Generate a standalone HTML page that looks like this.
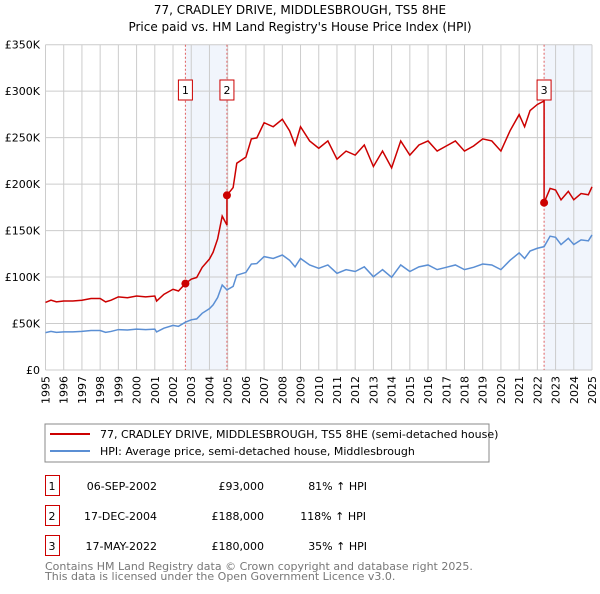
<!DOCTYPE html>
<html><head><meta charset="utf-8"><style>
body{margin:0;background:#fff;font-family:"DejaVu Sans","Liberation Sans",sans-serif;}
svg text{font-family:"DejaVu Sans","Liberation Sans",sans-serif;}
</style></head><body>
<svg id="chart" width="600" height="590" xmlns="http://www.w3.org/2000/svg">
<text x="300" y="14" text-anchor="middle" font-size="12">77, CRADLEY DRIVE, MIDDLESBROUGH, TS5 8HE</text>
<text x="300" y="31" text-anchor="middle" font-size="12">Price paid vs. HM Land Registry's House Price Index (HPI)</text>
<g id="grid"></g><g id="marks"></g><g id="axes"></g>
<rect x="45" y="424" width="444" height="38" fill="#fff" stroke="#888"/>
<line x1="50" y1="434" x2="90" y2="434" stroke="#cc0000" stroke-width="2"/>
<text x="100" y="438" font-size="11">77, CRADLEY DRIVE, MIDDLESBROUGH, TS5 8HE (semi-detached house)</text>
<line x1="50" y1="451" x2="90" y2="451" stroke="#5b8fd4" stroke-width="2"/>
<text x="100" y="455" font-size="11">HPI: Average price, semi-detached house, Middlesbrough</text>
<g font-size="11">
<rect x="45.5" y="475.5" width="14" height="20" fill="#fff" stroke="#cc0000"/><text x="52" y="490" text-anchor="middle">1</text>
<text x="157" y="490" text-anchor="end">06-SEP-2002</text><text x="264" y="490" text-anchor="end">£93,000</text><text x="367" y="490" text-anchor="end">81% ↑ HPI</text>
<rect x="45.5" y="505.5" width="14" height="20" fill="#fff" stroke="#cc0000"/><text x="52" y="520" text-anchor="middle">2</text>
<text x="157" y="520" text-anchor="end">17-DEC-2004</text><text x="264" y="520" text-anchor="end">£188,000</text><text x="366" y="520" text-anchor="end">118% ↑ HPI</text>
<rect x="45.5" y="535.5" width="14" height="20" fill="#fff" stroke="#cc0000"/><text x="52" y="550" text-anchor="middle">3</text>
<text x="157" y="550" text-anchor="end">17-MAY-2022</text><text x="264" y="550" text-anchor="end">£180,000</text><text x="367" y="550" text-anchor="end">35% ↑ HPI</text>
</g>
<text x="45" y="570" font-size="11" fill="#777">Contains HM Land Registry data © Crown copyright and database right 2025.</text>
<text x="45" y="580" font-size="11" fill="#777">This data is licensed under the Open Government Licence v3.0.</text>
</svg>
<script>
const hpiYears=[1995,1995.3,1995.6,1996,1996.5,1997,1997.5,1998,1998.3,1998.6,1999,1999.5,2000,2000.5,2001,2001.1,2001.5,2002,2002.3,2002.68,2003,2003.3,2003.6,2004,2004.2,2004.45,2004.7,2004.96,2005.3,2005.5,2006,2006.3,2006.6,2007,2007.5,2008,2008.4,2008.7,2009,2009.5,2010,2010.5,2011,2011.5,2012,2012.5,2013,2013.5,2014,2014.5,2015,2015.5,2016,2016.5,2017,2017.5,2018,2018.5,2019,2019.5,2020,2020.5,2021,2021.3,2021.6,2022,2022.37,2022.7,2023,2023.3,2023.7,2024,2024.4,2024.8,2025];
const hpiValues=[40.2,41.5,40.5,41,41,41.5,42.5,42.5,40.5,41.5,43.5,43,44,43.5,44,41,45,48,47,51.4,54,55,61,66,70,78,91.5,86.2,90,102,105,114,114.5,122,120,123.7,118,111,120,113,109.4,113,104,108,106,111,100.4,108,99.7,113,106,111,113,108,110.5,113,108,110.5,114,113,108,118,126,120,128,131,132.7,144,142.8,135,141.7,135,140,139,145.3];
const saleYears=[2002.68,2004.96,2022.37];
const salePrices=[93,188,180];
const yTicks=[0,50,100,150,200,250,300,350];
const yTickLabels=["£0","£50K","£100K","£150K","£200K","£250K","£300K","£350K"];
const xTicks=[1995,1996,1997,1998,1999,2000,2001,2002,2003,2004,2005,2006,2007,2008,2009,2010,2011,2012,2013,2014,2015,2016,2017,2018,2019,2020,2021,2022,2023,2024,2025];
const NS="http://www.w3.org/2000/svg";
const X=y=>45.5+(y-1995)*(592-45.5)/30;
const Y=v=>370-v*(370-44.7)/350;
function mk(p,t,a){const e=document.createElementNS(NS,t);for(const k in a)e.setAttribute(k,a[k]);p.appendChild(e);return e;}
const grid=document.getElementById('grid'),marks=document.getElementById('marks'),axes=document.getElementById('axes');
for(let i=0;i<3;i++){
  const x0=X(saleYears[i]);
  if(i!==1){const x1=i===0?X(saleYears[1]):X(2025);
    const r=mk(grid,'rect',{x:x0,y:Y(350),width:x1-x0,height:Y(0)-Y(350),fill:'#eef2fb',opacity:0.8});
    
    }
}
yTicks.forEach((t,i)=>{
  const l=mk(grid,'line',{x1:45.5,x2:592,y1:Y(t),y2:Y(t),stroke:'#ccc'});
  
  
  const tx=mk(axes,'text',{x:40,y:Y(t)+4,'text-anchor':'end','font-size':11});
  
  
  tx.textContent=yTickLabels[i];
});
xTicks.forEach(t=>{
  const l=mk(grid,'line',{x1:X(t),x2:X(t),y1:Y(350),y2:Y(0),stroke:'#ccc'});
  
  
  const tx=mk(axes,'text',{x:0,y:0,'font-size':11,'text-anchor':'end',transform:`translate(${X(t)+4},376) rotate(-90)`});
  
  
  tx.textContent=t;
});
saleYears.forEach((s,i)=>{
  const l=mk(grid,'line',{x1:X(s),x2:X(s),y1:Y(350),y2:Y(0),stroke:'#e06060','stroke-dasharray':'2,2'});
  
  
});
const hp=mk(marks,'polyline',{points:hpiYears.map((y,i)=>X(y)+','+Y(hpiValues[i])).join(' '),fill:'none',stroke:'#5b8fd4','stroke-width':1.5});


function hpiAt(t){for(let i=1;i<hpiYears.length;i++){if(t<=hpiYears[i]){const f=(t-hpiYears[i-1])/(hpiYears[i]-hpiYears[i-1]);return hpiValues[i-1]+f*(hpiValues[i]-hpiValues[i-1]);}}return hpiValues[hpiValues.length-1];}
const ratios=saleYears.map((s,i)=>salePrices[i]/hpiAt(s));
const pts=[];
hpiYears.forEach((y,i)=>{
  let k=0;for(let j=0;j<saleYears.length;j++)if(y>=saleYears[j]-1e-9)k=j;
  if(y<saleYears[0])k=0;
  if(i>0){for(let j=1;j<saleYears.length;j++){if(hpiYears[i-1]<saleYears[j]&&y>saleYears[j]){pts.push([saleYears[j],hpiAt(saleYears[j])*ratios[j-1]]);pts.push([saleYears[j],salePrices[j]]);}}}
  if(saleYears.indexOf(y)>0){pts.push([y,hpiValues[i]*ratios[saleYears.indexOf(y)-1]]);}
  pts.push([y,hpiValues[i]*ratios[k]]);
});
const rp=mk(marks,'polyline',{points:pts.map(p=>X(p[0])+','+Y(p[1])).join(' '),fill:'none',stroke:'#cc0000','stroke-width':1.5});


saleYears.forEach((s,i)=>{
  const c=mk(marks,'circle',{cx:X(s),cy:Y(salePrices[i]),r:4,fill:'#cc0000'});
  
  
  const bx=X(s)-7;
  const b=mk(marks,'rect',{x:bx,y:80,width:14,height:20,fill:'#fff',stroke:'#cc0000'});
  
  
  const tx=mk(marks,'text',{x:X(s),y:94,'text-anchor':'middle','font-size':11});
  
  
  tx.textContent=i+1;
});
</script>
</body></html>
